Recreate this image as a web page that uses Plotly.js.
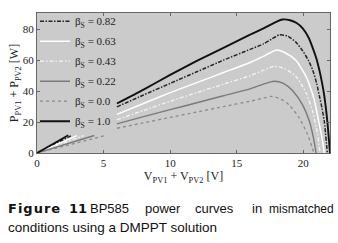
<!DOCTYPE html>
<html>
<head>
<meta charset="utf-8">
<script src="https://cdn.plot.ly/plotly-3.0.1.min.js"></script>
<style>
html,body{margin:0;padding:0;background:#fff;}
#chart{width:338px;height:243px;}
</style>
</head>
<body>
<div id="chart"></div>
<script>
// Legend labels (in legend order)
const betaLabels = ["0.82", "0.63", "0.43", "0.22", "0.0", "1.0"];

// Low-voltage segment end points (start at origin)
const lowV = { "0.82": 2.6, "0.63": 3.0, "0.43": 3.5, "0.22": 4.3, "0.0": 5.1, "1.0": 2.35 };
const lowP = { "0.82": 11.3, "0.63": 11.2, "0.43": 11.2, "0.22": 11.3, "0.0": 11.3, "1.0": 11.5 };

// Main segment voltages and powers
const v100 = [6,8,10,12,14,16,17,18,18.45,19,19.5,19.95,20.4,20.7,21.0,21.2,21.4,21.57,21.8,22.0];
const p100 = [32,41,50.5,59.5,68,76.5,80.5,85,86.3,85.8,84,80.5,74.5,68,60.5,53.6,45.5,37,20.5,0];

const v082 = [6,8,10,12,14,16,17,17.6,18.2,18.8,19.4,19.95,20.4,20.7,21.0,21.2,21.4,21.57,21.8];
const p082 = [29.8,37.5,45,52.5,60,67,70.5,73.5,76.4,75.6,72,66,59.5,53.6,45,37,29,20.5,0];

const v063 = [6,8,10,12,14,16,17,17.95,18.7,19.45,20.2,20.5,20.8,21.0,21.2,21.4,21.57];
const p063 = [25,32,39,45.5,52,58.5,62.5,66.5,64.5,59.8,49.5,43,35,27,18.4,10,0];

const v043 = [6,8,10,12,14,16,17,17.8,18.6,19.45,20.2,20.7,21.07,21.25];
const p043 = [21.5,27.5,33.5,39,44.5,50,53.5,56.1,54.5,49.5,39,26.7,12.2,0];

const v022 = [6,8,10,12,14,16,17,17.8,18.5,19.2,19.95,20.45,20.8,20.95];
const p022 = [18.8,23.5,28,32.5,37,41.5,44.5,46.4,45,40.2,30.9,20.5,8,0];

const v000 = [6,8,10,12,14,16,17,17.6,18.3,18.95,19.7,20.3,20.8];
const p000 = [16,19.5,23,26.5,30,33.5,35.5,36.6,35,30.9,22.5,12.2,0];

const mainV = { "0.82": v082, "0.63": v063, "0.43": v043, "0.22": v022, "0.0": v000, "1.0": v100 };
const mainP = { "0.82": p082, "0.63": p063, "0.43": p043, "0.22": p022, "0.0": p000, "1.0": p100 };

const styles = {
  "0.82": {color: "#262626", width: 1.5, dash: "4px,1.5px,1.5px,1.5px"},
  "0.63": {color: "#ffffff", width: 1.5, dash: "solid"},
  "0.43": {color: "#f4f4f4", width: 1.3, dash: "4px,2px,1.5px,2px"},
  "0.22": {color: "#7a7a7a", width: 1.4, dash: "solid"},
  "0.0":  {color: "#8c8c8c", width: 1.3, dash: "dot"},
  "1.0":  {color: "#111111", width: 1.9, dash: "solid"}
};

const serif = "Liberation Serif, Times New Roman, serif";
const sans = "Liberation Sans, Arial, sans-serif";

const traces = betaLabels.map(b => ({
  type: "scatter",
  mode: "lines",
  x: [0, lowV[b], null].concat(mainV[b]),
  y: [0, lowP[b], null].concat(mainP[b]),
  connectgaps: false,
  name: "β<sub>S</sub> = " + b,
  legendgroup: "g" + b,
  line: Object.assign({shape: "spline", smoothing: 0.6}, styles[b])
}));

function cap(text, xpx, ypx, anchor, size, family) {
  return {xref: "paper", yref: "paper", x: (xpx - 37) / 293, y: -(ypx - 153) / 146,
          xanchor: anchor, yanchor: "middle", showarrow: false, text: text, borderpad: 0,
          font: {family: family || sans, size: size, color: "#111"}};
}

const layout = {
  width: 338, height: 243,
  margin: {l: 37, r: 8, t: 7, b: 90},
  paper_bgcolor: "#ffffff",
  plot_bgcolor: "#cbcbcb",
  showlegend: true,
  legend: {
    x: -2/293, y: 1.045, xanchor: "left", yanchor: "top",
    bgcolor: "rgba(0,0,0,0)",
    font: {family: serif, size: 11, color: "#222"},
    tracegroupgap: 1, itemwidth: 30, maxheight: 230,
    traceorder: "grouped"
  },
  xaxis: {
    range: [0, 22], dtick: 5, tick0: 0,
    showgrid: false, zeroline: false,
    showline: true, linecolor: "#666", linewidth: 1, mirror: "ticks",
    ticks: "inside", ticklen: 3, tickcolor: "#666",
    tickfont: {family: serif, size: 11, color: "#222"},
    title: {text: "V<sub>PV1</sub> + V<sub>PV2</sub> [V]", font: {family: serif, size: 12, color: "#222"}, standoff: 0}
  },
  yaxis: {
    range: [0, 90.5], dtick: 20, tick0: 0,
    showgrid: false, zeroline: false,
    showline: true, linecolor: "#666", linewidth: 1, mirror: "ticks",
    ticks: "inside", ticklen: 3, tickcolor: "#666",
    tickfont: {family: serif, size: 11, color: "#222"},
    title: {text: "P<sub>PV1</sub> + P<sub>PV2</sub> [W]", font: {family: serif, size: 12, color: "#222"}, standoff: 0}
  },
  annotations: [
    cap('<b><span style="letter-spacing:1px">Figure</span></b>', 7, 211, "left", 13, "DejaVu Sans, sans-serif"),
    cap("<b>11</b>", 68, 211, "left", 13, "DejaVu Sans, sans-serif"),
    cap("BP585", 89, 211, "left", 13),
    cap("power", 144, 211, "left", 13),
    cap("curves", 194, 211, "left", 13),
    cap("in", 251, 211, "left", 13),
    cap("mismatched", 335, 211, "right", 12),
    cap("conditions using a DMPPT solution", 7, 231, "left", 13.5)
  ]
};

Plotly.newPlot("chart", traces, layout, {displayModeBar: false, staticPlot: true});
</script>
</body>
</html>
